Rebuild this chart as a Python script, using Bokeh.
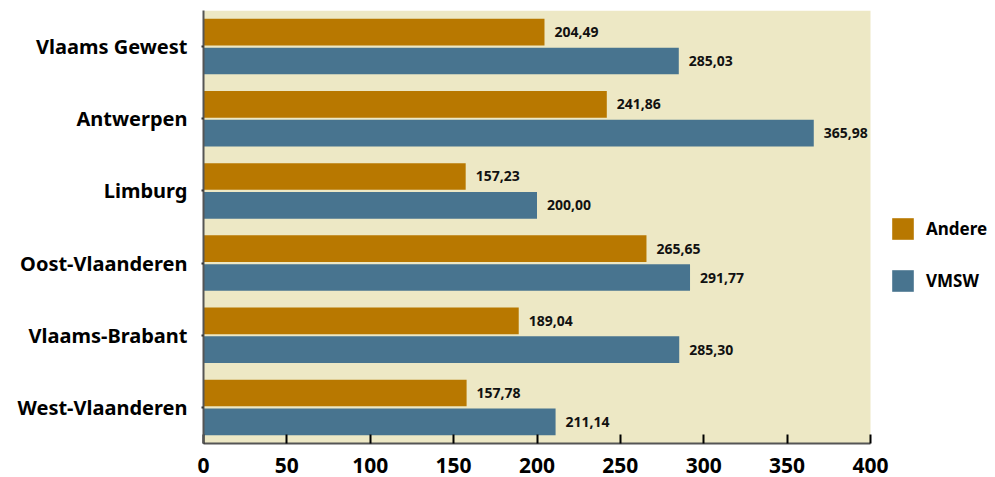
from bokeh.plotting import figure
from bokeh.models import (ColumnDataSource, FactorRange, Range1d, Legend, LegendItem,
                          FixedTicker, BoxAnnotation)
from bokeh.transform import dodge
from bokeh.core.properties import value
from bokeh.embed import file_html
from bokeh.resources import INLINE

regions = ["Vlaams Gewest", "Antwerpen", "Limburg", "Oost-Vlaanderen", "Vlaams-Brabant", "West-Vlaanderen"]
andere = [204.49, 241.86, 157.23, 265.65, 189.04, 157.78]
vmsw = [285.03, 365.98, 200.00, 291.77, 285.30, 211.14]
x_ticks = [0, 50, 100, 150, 200, 250, 300, 350, 400]

ORANGE = "#B87800"
BLUE = "#48748F"
BEIGE = "#EDE8C5"
FONT = "Noto Sans"

def fmt(v):
    return f"{v:.2f}".replace(".", ",")

src = ColumnDataSource(dict(
    region=regions,
    andere=andere,
    vmsw=vmsw,
    andere_lbl=[fmt(v) for v in andere],
    vmsw_lbl=[fmt(v) for v in vmsw],
))

# frame spans to the right edge; the axis area (0..400) covers 667 px of 792 px
x_max = x_ticks[-1]
x_end = x_max * 792 / 667

p = figure(width=995, height=477, output_backend="svg", toolbar_location=None,
           y_range=FactorRange(factors=list(reversed(regions))),
           x_range=Range1d(0, x_end),
           min_border_left=203, min_border_right=0, min_border_top=10, min_border_bottom=34)

p.background_fill_color = "white"
p.border_fill_color = "white"
p.outline_line_color = None
p.grid.visible = False

p.add_layout(BoxAnnotation(left=0, right=x_max, fill_color=BEIGE, fill_alpha=1,
                           line_color=None, level="underlay"))

r1 = p.hbar(y=dodge("region", 0.2, range=p.y_range), right="andere", left=0, height=0.37,
            color=ORANGE, line_color=None, source=src)
r2 = p.hbar(y=dodge("region", -0.2, range=p.y_range), right="vmsw", left=0, height=0.37,
            color=BLUE, line_color=None, source=src)

p.text(x="andere", y=dodge("region", 0.2, range=p.y_range), text="andere_lbl", source=src,
       x_offset=10, text_baseline="middle", text_align="left",
       text_font=value(FONT), text_font_style="bold", text_font_size="14px", text_color="#111111")
p.text(x="vmsw", y=dodge("region", -0.2, range=p.y_range), text="vmsw_lbl", source=src,
       x_offset=10, text_baseline="middle", text_align="left",
       text_font=value(FONT), text_font_style="bold", text_font_size="14px", text_color="#111111")

xa = p.xaxis[0]
xa.ticker = FixedTicker(ticks=x_ticks)
xa.bounds = (0, x_max)
xa.minor_tick_line_color = None
xa.major_tick_in = 9
xa.major_tick_out = 0
xa.major_tick_line_color = "black"
xa.major_tick_line_width = 2
xa.axis_line_color = "#555555"
xa.axis_line_width = 2
xa.major_label_standoff = 14
xa.major_label_text_font = FONT
xa.major_label_text_font_style = "bold"
xa.major_label_text_font_size = "21px"
xa.major_label_text_color = "black"

ya = p.yaxis[0]
ya.major_tick_in = 0
ya.major_tick_out = 2
ya.major_tick_line_color = "#333333"
ya.major_tick_line_width = 2
ya.minor_tick_line_color = None
ya.axis_line_color = "#555555"
ya.axis_line_width = 2
ya.major_label_standoff = 14
ya.major_label_text_font = FONT
ya.major_label_text_font_style = "bold"
ya.major_label_text_font_size = "20px"
ya.major_label_text_color = "black"

legend = Legend(items=[LegendItem(label="Andere", renderers=[r1]),
                       LegendItem(label="VMSW", renderers=[r2])],
                location=(686, 149), orientation="vertical",
                glyph_width=27, glyph_height=27, spacing=25, padding=0, margin=0,
                label_standoff=10, label_text_font=FONT, label_text_font_style="bold",
                label_text_font_size="17px", label_text_color="black",
                border_line_color=None, background_fill_alpha=0)
p.add_layout(legend, "center")

open("out.html", "w").write(file_html(p, INLINE))
